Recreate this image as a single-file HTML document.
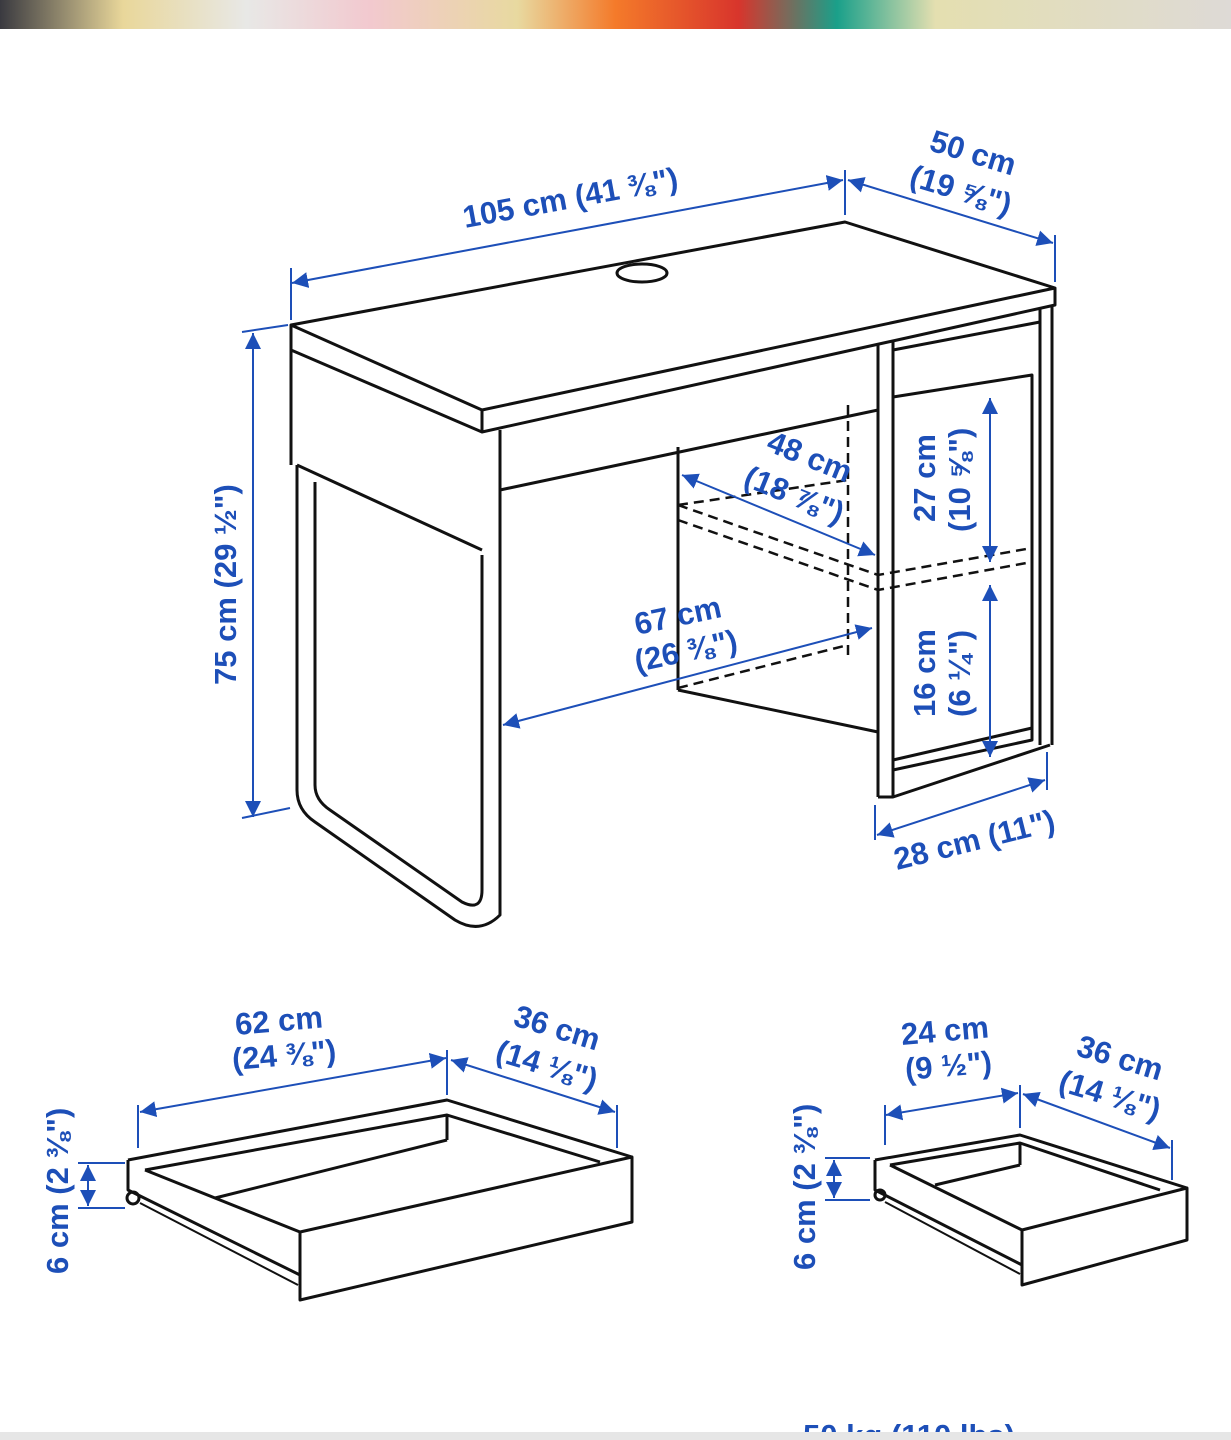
<!DOCTYPE html>
<html><head><meta charset="utf-8"><style>
html,body{margin:0;padding:0;background:#fff;}
svg{display:block}
text{font-family:"Liberation Sans",sans-serif;font-weight:bold;fill:#1d4fb8;font-size:31px}
</style></head><body>
<svg width="1231" height="1440" viewBox="0 0 1231 1440" xmlns="http://www.w3.org/2000/svg">
<defs>
<linearGradient id="g" x1="0" x2="1">
<stop offset="0" stop-color="#3a3a40"/><stop offset="0.1" stop-color="#e9d79a"/><stop offset="0.2" stop-color="#e8e8e6"/><stop offset="0.3" stop-color="#f2c9cf"/><stop offset="0.42" stop-color="#e8d9a0"/><stop offset="0.5" stop-color="#f47a2a"/><stop offset="0.6" stop-color="#d8352c"/><stop offset="0.68" stop-color="#1aa08a"/><stop offset="0.76" stop-color="#e4dfb0"/><stop offset="1" stop-color="#dedad6"/>
</linearGradient>
<marker id="a" viewBox="0 0 10 10" refX="10" refY="5" markerWidth="8" markerHeight="8" orient="auto-start-reverse"><path d="M0,0L10,5L0,10z" fill="#1d4fb8"/></marker>
</defs>
<rect x="0" y="0" width="1231" height="29" fill="url(#g)"/>
<g fill="none" stroke="#111" stroke-width="3" stroke-linejoin="round">
<polygon points="291,325 845,222 1055,288 482,410" fill="#fff"/>
<polyline points="291,325 291,350 482,432 1055,305 1055,288"/>
<line x1="482" y1="410" x2="482" y2="432"/>
<ellipse cx="642" cy="273" rx="25" ry="9"/>
<polyline points="500,432 500,490 878,410"/>
<path d="M297,465 L297,790 Q297,810 315,822 L455,920 Q480,935 500,915 L500,430"/>
<path d="M315,482 L315,785 Q315,800 330,810 L462,902 Q482,912 482,890 L482,555"/>
<line x1="297" y1="465" x2="482" y2="550"/>
<line x1="291" y1="350" x2="291" y2="465"/>
<line x1="878" y1="345" x2="878" y2="797"/>
<line x1="893" y1="342" x2="893" y2="797"/>
<line x1="1040" y1="308" x2="1040" y2="745"/>
<line x1="1052" y1="305" x2="1052" y2="745"/>
<polyline points="878,797 893,797 1050,745"/>
<polyline points="893,397 1032,375 1032,740 893,770"/>
<line x1="893" y1="760" x2="1032" y2="728"/>
<polyline points="893,350 1040,322"/>
<line x1="678" y1="447" x2="678" y2="690"/>
<polyline points="678,690 878,732"/>
</g>
<g fill="none" stroke="#111" stroke-width="2.5" stroke-dasharray="10,6">
<line x1="848" y1="405" x2="848" y2="660"/>
<polyline points="678,505 878,575 1032,548"/>
<polyline points="678,520 878,590 1032,562"/>
<line x1="678" y1="688" x2="848" y2="645"/>
<line x1="678" y1="505" x2="848" y2="480"/>
</g>
<g stroke="#1d4fb8" stroke-width="2" fill="none">
<line x1="292" y1="283" x2="843" y2="180" marker-start="url(#a)" marker-end="url(#a)"/>
<line x1="291" y1="268" x2="291" y2="320"/><line x1="845" y1="170" x2="845" y2="215"/>
<line x1="848" y1="180" x2="1053" y2="243" marker-start="url(#a)" marker-end="url(#a)"/>
<line x1="1055" y1="235" x2="1055" y2="282"/>
<line x1="253" y1="333" x2="253" y2="817" marker-start="url(#a)" marker-end="url(#a)"/>
<line x1="242" y1="332" x2="288" y2="325"/><line x1="242" y1="818" x2="290" y2="808"/>
<line x1="682" y1="475" x2="875" y2="555" marker-start="url(#a)" marker-end="url(#a)"/>
<line x1="503" y1="725" x2="872" y2="628" marker-start="url(#a)" marker-end="url(#a)"/>
<line x1="990" y1="398" x2="990" y2="562" marker-start="url(#a)" marker-end="url(#a)"/>
<line x1="990" y1="585" x2="990" y2="757" marker-start="url(#a)" marker-end="url(#a)"/>
<line x1="877" y1="835" x2="1045" y2="780" marker-start="url(#a)" marker-end="url(#a)"/>
<line x1="875" y1="805" x2="875" y2="840"/><line x1="1047" y1="752" x2="1047" y2="790"/>
</g>
<text transform="translate(465,228) rotate(-10.5)">105 cm (41 ⅜")</text>
<text transform="translate(928,150) rotate(17)">50 cm</text>
<text transform="translate(908,185) rotate(17)">(19 ⅝")</text>
<text transform="translate(236,685) rotate(-90)">75 cm (29 ½")</text>
<text transform="translate(765,450) rotate(22)">48 cm</text>
<text transform="translate(742,485) rotate(22)">(18 ⅞")</text>
<text transform="translate(637,635) rotate(-12)">67 cm</text>
<text transform="translate(637,672) rotate(-12)">(26 ⅜")</text>
<text transform="translate(935,522) rotate(-90)">27 cm</text>
<text transform="translate(970,532) rotate(-90)">(10 ⅝")</text>
<text transform="translate(935,717) rotate(-90)">16 cm</text>
<text transform="translate(970,717) rotate(-90)">(6 ¼")</text>
<text transform="translate(897,870) rotate(-14)">28 cm (11")</text>
<g fill="none" stroke="#111" stroke-width="3" stroke-linejoin="round">
<polyline points="128,1160 447,1100 632,1157"/>
<polyline points="145,1170 447,1115 600,1162"/>
<polyline points="128,1160 128,1190 300,1275"/>
<line x1="140" y1="1203" x2="298" y2="1285" stroke-width="2"/>
<polygon points="300,1232 632,1157 632,1222 300,1300" fill="#fff"/>
<line x1="145" y1="1170" x2="300" y2="1232"/>
<line x1="215" y1="1198" x2="447" y2="1140"/>
<line x1="447" y1="1115" x2="447" y2="1140"/>
<circle cx="133" cy="1198" r="6"/>
</g>
<g stroke="#1d4fb8" stroke-width="2" fill="none">
<line x1="140" y1="1112" x2="446" y2="1058" marker-start="url(#a)" marker-end="url(#a)"/>
<line x1="138" y1="1105" x2="138" y2="1148"/><line x1="447" y1="1050" x2="447" y2="1095"/>
<line x1="451" y1="1060" x2="615" y2="1112" marker-start="url(#a)" marker-end="url(#a)"/>
<line x1="617" y1="1105" x2="617" y2="1148"/>
<line x1="88" y1="1165" x2="88" y2="1206" marker-start="url(#a)" marker-end="url(#a)"/>
<line x1="78" y1="1163" x2="125" y2="1163"/><line x1="78" y1="1208" x2="125" y2="1208"/>
</g>
<text x="236" y="1035" transform="rotate(-5 236 1035)">62 cm</text>
<text x="233" y="1070" transform="rotate(-5 233 1070)">(24 ⅜")</text>
<text transform="translate(512,1025) rotate(17)">36 cm</text>
<text transform="translate(494,1060) rotate(17)">(14 ⅛")</text>
<text transform="translate(68,1274) rotate(-90)">6 cm (2 ⅜")</text>
<g fill="none" stroke="#111" stroke-width="3" stroke-linejoin="round">
<polyline points="875,1160 1020,1135 1187,1188"/>
<polyline points="890,1165 1020,1143 1160,1190"/>
<polyline points="875,1160 875,1190 1022,1265"/>
<line x1="885" y1="1202" x2="1020" y2="1274" stroke-width="2"/>
<polygon points="1022,1230 1187,1188 1187,1240 1022,1285" fill="#fff"/>
<line x1="890" y1="1165" x2="1022" y2="1230"/>
<line x1="935" y1="1185" x2="1020" y2="1165"/>
<line x1="1020" y1="1143" x2="1020" y2="1165"/>
<circle cx="880" cy="1195" r="5"/>
</g>
<g stroke="#1d4fb8" stroke-width="2" fill="none">
<line x1="886" y1="1115" x2="1018" y2="1093" marker-start="url(#a)" marker-end="url(#a)"/>
<line x1="885" y1="1105" x2="885" y2="1145"/><line x1="1020" y1="1085" x2="1020" y2="1128"/>
<line x1="1023" y1="1094" x2="1170" y2="1148" marker-start="url(#a)" marker-end="url(#a)"/>
<line x1="1172" y1="1140" x2="1172" y2="1180"/>
<line x1="834" y1="1160" x2="834" y2="1198" marker-start="url(#a)" marker-end="url(#a)"/>
<line x1="825" y1="1158" x2="870" y2="1158"/><line x1="825" y1="1200" x2="870" y2="1200"/>
</g>
<text x="902" y="1045" transform="rotate(-5 902 1045)">24 cm</text>
<text x="906" y="1080" transform="rotate(-5 906 1080)">(9 ½")</text>
<text transform="translate(1075,1055) rotate(17)">36 cm</text>
<text transform="translate(1057,1090) rotate(17)">(14 ⅛")</text>
<text transform="translate(815,1270) rotate(-90)">6 cm (2 ⅜")</text>
<text x="803" y="1446">50 kg (110 lbs)</text>
<rect x="0" y="1432" width="1231" height="8" fill="#e6e6e6"/>
</svg>
</body></html>
